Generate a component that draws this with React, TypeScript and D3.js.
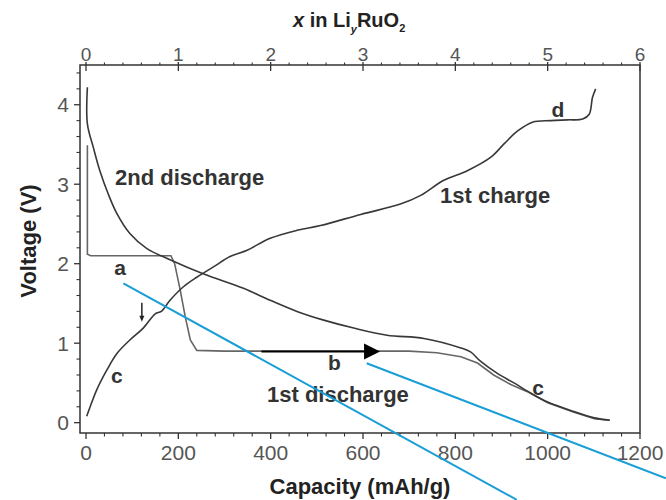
import React from "react";
import * as d3 from "d3";

// ---- data (capacity mAh/g, voltage V) ----
const firstDischargeCap = [3, 3, 10, 100, 184, 192, 204, 215, 226, 240, 300, 500, 700, 760, 812, 848, 883, 920, 956, 1000, 1057, 1101, 1133];
const firstDischargeV = [3.49, 2.12, 2.1, 2.1, 2.1, 2.0, 1.67, 1.33, 1.04, 0.91, 0.9, 0.9, 0.9, 0.88, 0.83, 0.75, 0.6, 0.48, 0.39, 0.25, 0.13, 0.05, 0.03];

const secondDischargeCap = [3, 3, 16, 30, 48, 67, 95, 132, 182, 255, 341, 399, 457, 515, 580, 652, 732, 812, 833, 855, 891, 927, 964, 1000, 1057, 1101, 1135];
const secondDischargeV = [4.22, 3.76, 3.46, 3.17, 2.88, 2.63, 2.38, 2.19, 2.05, 1.87, 1.69, 1.54, 1.4, 1.29, 1.19, 1.1, 1.06, 0.94, 0.89, 0.77, 0.62, 0.5, 0.37, 0.26, 0.14, 0.06, 0.03];

const firstChargeCap = [1.5, 9, 23, 45, 67, 95, 124, 150, 163, 182, 211, 240, 276, 312, 349, 399, 457, 508, 595, 681, 725, 775, 826, 877, 906, 935, 967, 1007, 1043, 1076, 1090, 1097, 1104];
const firstChargeV = [0.08, 0.2, 0.41, 0.66, 0.87, 1.04, 1.19, 1.37, 1.4, 1.54, 1.71, 1.83, 1.96, 2.09, 2.17, 2.32, 2.42, 2.48, 2.62, 2.75, 2.86, 3.05, 3.17, 3.34, 3.51, 3.67, 3.78, 3.8, 3.81, 3.82, 3.88, 4.09, 4.2];

const capTicks = [0, 200, 400, 600, 800, 1000, 1200];
const liTicks = [0, 1, 2, 3, 4, 5, 6];
const voltTicks = [0, 1, 2, 3, 4];

// annotation labels: [text, capacity, voltage, anchor, size]
const curveLabels: [string, number, number, string, number][] = [
  ["2nd discharge", 63, 2.99, "start", 22],
  ["a", 74, 1.86, "middle", 21],
  ["b", 538, 0.66, "middle", 21],
  ["1st discharge", 392, 0.26, "start", 22],
  ["c", 67, 0.5, "middle", 21],
  ["c", 979, 0.35, "middle", 21],
  ["d", 1022, 3.85, "middle", 21],
  ["1st charge", 767, 2.76, "start", 22],
];

// cyan annotation lines [c1, v1, c2, v2]
const cyanLines: [number, number, number, number][] = [
  [81, 1.754, 933, -0.97],
  [608, 0.747, 1256, -0.7],
];

// arrows [c1, v1, c2, v2]
const bigArrow = [380, 0.894, 637, 0.894];
const smallArrow = [121, 1.51, 121, 1.27];

export default function App() {
  const W = 666, H = 500;
  const L = 80, R = 640, T = 65, B = 433;
  const x = d3.scaleLinear().domain([-13, 1200]).range([L, R]);
  const xTop = d3.scaleLinear().domain([-0.065, 6]).range([L, R]);
  const y = d3.scaleLinear().domain([-0.13, 4.5]).range([B, T]);

  const line = d3.line<[number, number]>().x((d) => x(d[0])).y((d) => y(d[1]));
  const smooth = d3.line<[number, number]>().x((d) => x(d[0])).y((d) => y(d[1])).curve(d3.curveCatmullRom.alpha(0.5));
  const zip = (a: number[], b: number[]) => a.map((v, i) => [v, b[i]] as [number, number]);

  const capMinor = d3.range(0, 1201, 40).filter((v) => v % 200 !== 0);
  const liMinor = d3.range(0, 6.01, 0.2).filter((v) => Math.abs(v - Math.round(v)) > 0.01);
  const voltMinor = d3.range(0, 4.41, 0.2).filter((v) => Math.abs(v - Math.round(v)) > 0.01);

  const font = "'Liberation Sans', Arial, sans-serif";
  const axisColor = "#333";
  const tickText = "#555";

  const bx1 = x(bigArrow[0]), bx2 = x(bigArrow[2]), by = y(bigArrow[1]);
  const sx = x(smallArrow[0]), sy1 = y(smallArrow[1]), sy2 = y(smallArrow[3]);

  return (
    <svg width={W} height={H} style={{ position: "absolute", left: 0, top: 0, background: "#fff" }} fontFamily={font}>
      <rect width={W} height={H} fill="#fff" />
      {/* frame */}
      <rect x={L} y={T} width={R - L} height={B - T} fill="none" stroke={axisColor} strokeWidth={1.5} />

      {/* bottom ticks */}
      {capTicks.map((t) => (
        <g key={"bt" + t}>
          <line x1={x(t)} x2={x(t)} y1={B} y2={B + 6} stroke={axisColor} strokeWidth={1.3} />
          <text x={x(t)} y={460} textAnchor="middle" fontSize={21} fill={tickText}>{t}</text>
        </g>
      ))}
      {capMinor.map((t) => (
        <line key={"bm" + t} x1={x(t)} x2={x(t)} y1={B} y2={B + 3.5} stroke={axisColor} strokeWidth={1.1} />
      ))}

      {/* top ticks */}
      {liTicks.map((t) => (
        <g key={"tt" + t}>
          <line x1={xTop(t)} x2={xTop(t)} y1={T - 3} y2={T + 6} stroke={axisColor} strokeWidth={1.3} />
          <text x={xTop(t)} y={61} textAnchor="middle" fontSize={19} fill={tickText}>{t}</text>
        </g>
      ))}
      {liMinor.map((t) => (
        <line key={"tm" + t} x1={xTop(t)} x2={xTop(t)} y1={T} y2={T - 2.5} stroke={axisColor} strokeWidth={1.1} />
      ))}

      {/* left ticks */}
      {voltTicks.map((t) => (
        <g key={"lt" + t}>
          <line x1={L} x2={L - 6} y1={y(t)} y2={y(t)} stroke={axisColor} strokeWidth={1.3} />
          <text x={69} y={y(t)} dy="0.36em" textAnchor="end" fontSize={21} fill={tickText}>{t}</text>
        </g>
      ))}
      {voltMinor.map((t) => (
        <line key={"lm" + t} x1={L} x2={L - 3.5} y1={y(t)} y2={y(t)} stroke={axisColor} strokeWidth={1.1} />
      ))}

      {/* axis titles */}
      <text x={(L + R) / 2} y={494} textAnchor="middle" fontSize={22} fontWeight="bold" fill="#222">Capacity (mAh/g)</text>
      <text transform={`translate(36,241) rotate(-90)`} textAnchor="middle" fontSize={22} fontWeight="bold" fill="#222">Voltage (V)</text>
      <text x={293} y={27} fontSize={20} fontWeight="bold" fill="#222">
        <tspan fontStyle="italic">x</tspan>
        <tspan> in Li</tspan>
        <tspan fontSize={11} fontStyle="italic" dy={6}>y</tspan>
        <tspan dy={-6}>RuO</tspan>
        <tspan fontSize={11} dy={5}>2</tspan>
      </text>

      {/* curves */}
      <path d={line(zip(firstDischargeCap, firstDischargeV)) || ""} fill="none" stroke="#666" strokeWidth={1.6} />
      <path d={smooth(zip(secondDischargeCap, secondDischargeV)) || ""} fill="none" stroke="#383838" strokeWidth={1.6} />
      <path d={smooth(zip(firstChargeCap, firstChargeV)) || ""} fill="none" stroke="#383838" strokeWidth={1.6} />

      {/* labels */}
      {curveLabels.map(([t, c, v, a, s], i) => (
        <text key={"lab" + i} x={x(c)} y={y(v)} textAnchor={a as any} fontSize={s} fontWeight="bold" fill="#333">{t}</text>
      ))}

      {/* big arrow */}
      <line x1={bx1} x2={bx2 - 14} y1={by} y2={by} stroke="#000" strokeWidth={2} />
      <path d={`M${bx2},${by} L${bx2 - 16},${by - 8} L${bx2 - 16},${by + 8} Z`} fill="#000" />

      {/* small arrow */}
      <line x1={sx} x2={sx} y1={sy1} y2={sy2 - 4} stroke="#222" strokeWidth={1.5} />
      <path d={`M${sx},${sy2} L${sx - 2.5},${sy2 - 6} L${sx + 2.5},${sy2 - 6} Z`} fill="#222" />

      {/* cyan lines */}
      {cyanLines.map(([c1, v1, c2, v2], i) => (
        <line key={"cy" + i} x1={x(c1)} y1={y(v1)} x2={x(c2)} y2={y(v2)} stroke="#1a9ed6" strokeWidth={2} />
      ))}
    </svg>
  );
}
